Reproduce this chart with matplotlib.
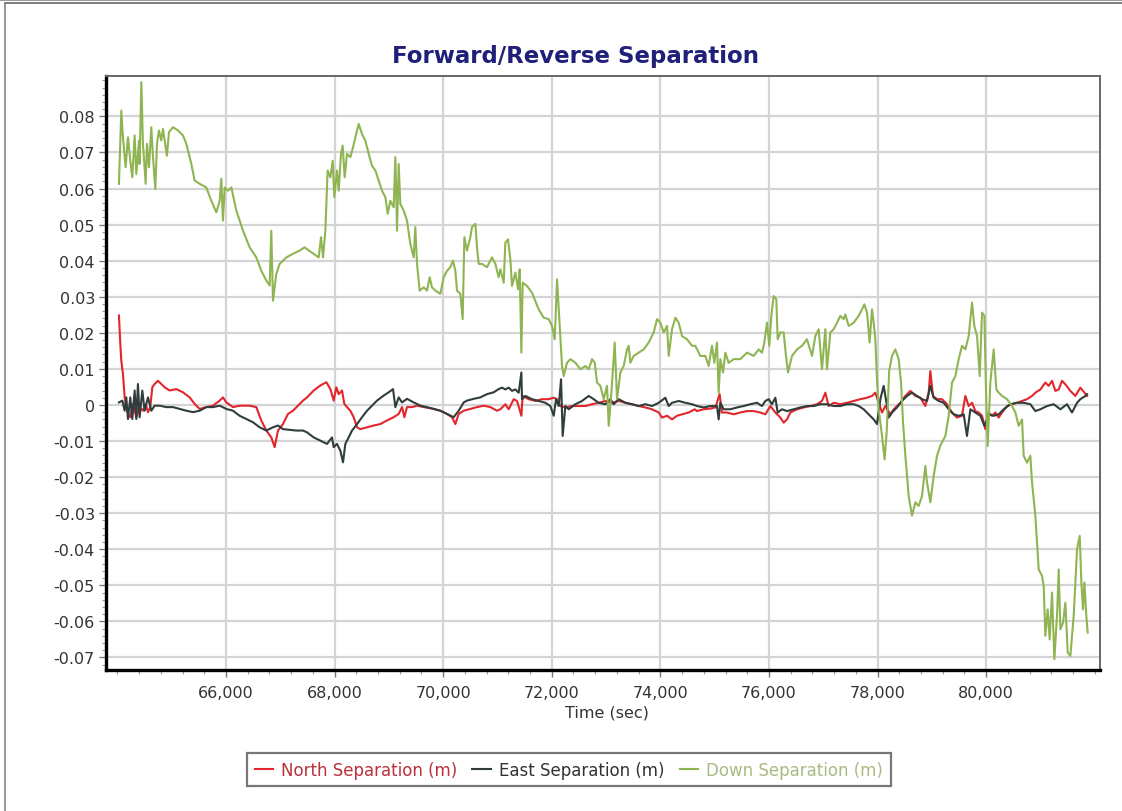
import matplotlib
matplotlib.use("Agg")
import matplotlib.pyplot as plt
from matplotlib.ticker import FixedLocator, MultipleLocator, FuncFormatter
from matplotlib.lines import Line2D

# values (time in sec, separation in m)
down_t = [64028, 64071, 64102, 64151, 64194, 64237, 64274, 64317, 64348, 64397, 64409, 64440,
          64470, 64520, 64544, 64581, 64624, 64655, 64698, 64728, 64765, 64808, 64839, 64912,
          64949, 65023, 65115, 65207, 65269, 65361, 65422, 65514, 65637, 65729, 65821, 65883,
          65913, 65944, 65975, 66036, 66098, 66190, 66313, 66435, 66558, 66650, 66742, 66804,
          66834, 66865, 66926, 66988, 67111, 67233, 67356, 67448,
          67492, 67615, 67707, 67750, 67787, 67830, 67872, 67922, 67965, 67995, 68044, 68075,
          68118, 68149, 68186, 68229, 68290, 68339, 68382, 68444, 68505, 68566, 68628, 68689,
          68751, 68812, 68873, 68935, 68978, 69027, 69088, 69119, 69150, 69180, 69211, 69272,
          69334, 69395, 69457, 69487, 69518, 69567, 69641, 69702, 69751, 69794, 69856, 69948,
          70009, 70071, 70132, 70181, 70224, 70255, 70316, 70359, 70390, 70439, 70500, 70531,
          70593, 70623, 70654, 70715, 70807, 70900, 70961, 71022,
          71053, 71115, 71145, 71194, 71237, 71268, 71329, 71379, 71409, 71440, 71464, 71544,
          71636, 71759, 71851, 71943, 72005, 72054, 72097, 72140, 72189, 72220, 72281, 72343,
          72435, 72527, 72619, 72680, 72742, 72791, 72834, 72895, 72957, 73018, 73049, 73098,
          73159, 73202, 73264, 73325, 73386, 73417, 73448, 73509, 73601, 73693, 73785, 73878,
          73939, 74000, 74062, 74123, 74154, 74215, 74277, 74338, 74399, 74492, 74584,
          74644, 74736, 74828, 74890, 74951, 74994, 75043, 75074, 75105, 75154, 75197, 75258,
          75350, 75473, 75596, 75719, 75811, 75872, 75915, 75964, 76007, 76044, 76087, 76136,
          76161, 76210, 76271, 76314, 76351, 76425, 76517, 76609, 76701, 76793, 76855, 76916,
          76977, 77039, 77069, 77131, 77192, 77254, 77315, 77376, 77407, 77469, 77561, 77653,
          77714, 77757, 77806, 77855, 77898, 77929, 77960, 77990, 78021, 78083, 78130, 78170,
          78215, 78267, 78328, 78390, 78433, 78470, 78513, 78574, 78635, 78697, 78758, 78820,
          78881, 78912, 78973, 79034, 79096, 79157, 79249, 79311, 79372, 79434, 79495, 79556,
          79618, 79679, 79741, 79783, 79833, 79882, 79925, 79968, 80005, 80029, 80078, 80140,
          80189, 80232, 80293, 80385, 80477, 80539, 80600, 80662, 80692, 80754, 80815, 80846,
          80907, 80969, 81030, 81061, 81091, 81134, 81171, 81214, 81257, 81306, 81337, 81368,
          81417, 81460, 81503, 81552, 81613, 81675, 81724, 81754, 81785, 81810, 81846, 81871]
down_v = [0.0613, 0.0816, 0.0742, 0.0659, 0.0742, 0.0677, 0.0631, 0.0747, 0.0640, 0.0733, 0.0668, 0.0895,
          0.0724, 0.0613, 0.0724, 0.0659, 0.0770, 0.0687, 0.0599, 0.0724, 0.0761, 0.0733, 0.0765, 0.0691,
          0.0756, 0.0770, 0.0761, 0.0747, 0.0724, 0.0668, 0.0622, 0.0613, 0.0603, 0.0566, 0.0534, 0.0566,
          0.0627, 0.0511, 0.0603, 0.0594, 0.0603, 0.0539, 0.0483, 0.0437, 0.0409, 0.0372, 0.0345, 0.0331,
          0.0483, 0.0289, 0.0363, 0.0391, 0.0409, 0.0419, 0.0428, 0.0437,
          0.0432, 0.0419, 0.0409, 0.0465, 0.0409, 0.0483, 0.0650, 0.0631, 0.0677, 0.0576, 0.0650, 0.0594,
          0.0696, 0.0719, 0.0631, 0.0696, 0.0687, 0.0714, 0.0742, 0.0779, 0.0751, 0.0733, 0.0696, 0.0663,
          0.0650, 0.0622, 0.0594, 0.0576, 0.0530, 0.0566, 0.0548, 0.0687, 0.0483, 0.0668, 0.0557, 0.0539,
          0.0511, 0.0446, 0.0409, 0.0493, 0.0391, 0.0317, 0.0326, 0.0317, 0.0354, 0.0326, 0.0317, 0.0308,
          0.0354, 0.0372, 0.0382, 0.0400, 0.0372, 0.0317, 0.0308, 0.0238, 0.0465, 0.0428, 0.0465, 0.0493,
          0.0502, 0.0437, 0.0391, 0.0391, 0.0382, 0.0409, 0.0391, 0.0354,
          0.0376, 0.0339, 0.0450, 0.0459, 0.0404, 0.0330, 0.0367, 0.0321, 0.0376, 0.0145, 0.0339, 0.0330,
          0.0311, 0.0265, 0.0242, 0.0238, 0.0219, 0.0182, 0.0348, 0.0238, 0.0108, 0.0080, 0.0117, 0.0127,
          0.0117, 0.0099, 0.0108, 0.0099, 0.0127, 0.0117, 0.0062, 0.0053, 0.0016, 0.0053, -0.0058, 0.0034,
          0.0173, 0.0016, 0.0090, 0.0108, 0.0154, 0.0164, 0.0117, 0.0136, 0.0145, 0.0154, 0.0173, 0.0201,
          0.0238, 0.0228, 0.0201, 0.0219, 0.0136, 0.0210, 0.0242, 0.0228, 0.0191, 0.0182, 0.0164,
          0.0164, 0.0136, 0.0136, 0.0108, 0.0164, 0.0117, 0.0173, 0.0034, 0.0127, 0.0090, 0.0145, 0.0117,
          0.0127, 0.0127, 0.0145, 0.0136, 0.0154, 0.0145, 0.0173, 0.0228, 0.0164, 0.0247, 0.0302, 0.0293,
          0.0182, 0.0201, 0.0201, 0.0136, 0.0090, 0.0136, 0.0154, 0.0164, 0.0182, 0.0136, 0.0191, 0.0210,
          0.0099, 0.0210, 0.0099, 0.0201, 0.0210, 0.0228, 0.0247, 0.0238, 0.0251, 0.0219, 0.0228, 0.0247,
          0.0265, 0.0279, 0.0256, 0.0173, 0.0265, 0.0228, 0.0182, 0.0071, -0.0012, -0.0086, -0.0151, -0.0072,
          0.0095, 0.0136, 0.0154, 0.0127, 0.0062, -0.0049, -0.0141, -0.0252, -0.0307, -0.0270, -0.0280, -0.0252,
          -0.0169, -0.0215, -0.0270, -0.0197, -0.0141, -0.0113, -0.0086, -0.0030, 0.0062, 0.0080, 0.0127, 0.0164,
          0.0154, 0.0191, 0.0284, 0.0219, 0.0191, 0.0080, 0.0256, 0.0247, -0.0003, -0.0114, 0.0062, 0.0154,
          0.0043, 0.0034, 0.0025, 0.0016, -0.0003, -0.0021, -0.0058, -0.0040, -0.0141, -0.0160, -0.0141, -0.0215,
          -0.0307, -0.0456, -0.0474, -0.0502, -0.0640, -0.0567, -0.0650, -0.0520, -0.0705, -0.0585, -0.0456, -0.0622,
          -0.0604, -0.0548, -0.0686, -0.0696, -0.0585, -0.0400, -0.0363, -0.0492, -0.0567, -0.0492, -0.0585, -0.0631]

north_t = [64028, 64053, 64071, 64102, 64133, 64163, 64194, 64237, 64286, 64348, 64409, 64470,
           64520, 64563, 64605, 64642, 64685, 64747, 64808, 64870, 64962, 65084, 65207, 65330,
           65422, 65514, 65637, 65760, 65883, 65944, 66005, 66128, 66251, 66435, 66558, 66650,
           66742, 66834, 66896, 66957, 67049, 67141, 67233, 67326, 67418,
           67492, 67615, 67737, 67848, 67922, 67983, 68032, 68075, 68137, 68179, 68229, 68290,
           68351, 68413, 68474, 68597, 68720, 68843, 68965, 69088, 69180, 69242, 69285, 69334,
           69426, 69518, 69641, 69825, 69948, 70071, 70163, 70224, 70286, 70378, 70500, 70623,
           70746, 70869, 70992,
           71053, 71145, 71207, 71299, 71360, 71440, 71464, 71575, 71698, 71821, 71943, 72036,
           72097, 72158, 72250, 72373, 72496, 72619, 72742, 72864, 72987, 73110, 73233, 73356,
           73478, 73601, 73724, 73847, 73970, 74031, 74123, 74215, 74307, 74399, 74522, 74633,
           74675, 74798, 74920, 75013, 75092, 75135, 75227, 75350, 75473, 75596, 75719, 75841,
           75934, 76026, 76118, 76210, 76271, 76333, 76394, 76517, 76640, 76763, 76885, 76977,
           77039, 77100, 77192, 77315, 77438, 77561, 77683, 77806, 77898, 77960, 78021, 78083,
           78144, 78236, 78298, 78359, 78420, 78513, 78605, 78697, 78789, 78881, 78942, 78973,
           79022, 79096, 79188, 79280, 79372, 79464, 79556, 79618, 79679, 79741, 79802, 79863,
           79925, 79986, 80048, 80109, 80170, 80232, 80293, 80385, 80477, 80569, 80662, 80754,
           80846, 80907, 81000, 81091, 81153, 81214, 81276, 81337, 81398, 81460, 81552, 81644,
           81736, 81810, 81859]
north_v = [0.0248, 0.0169, 0.0123, 0.0086, 0.0021, -0.0006, -0.0025, -0.0034, 0.0003, -0.0034, -0.0006, -0.0016,
           0.0003, -0.0020, -0.0006, 0.0049, 0.0058, 0.0067, 0.0058, 0.0049, 0.0040, 0.0044, 0.0035, 0.0021,
           0.0003, -0.0011, -0.0006, -0.0002, 0.0012, 0.0021, 0.0007, -0.0006, -0.0002, -0.0002, -0.0006, -0.0043,
           -0.0071, -0.0090, -0.0117, -0.0071, -0.0053, -0.0025, -0.0016, -0.0002, 0.0012,
           0.0021, 0.0040, 0.0054, 0.0063, 0.0044, 0.0012, 0.0049, 0.0030, 0.0040, 0.0003, -0.0006, -0.0016,
           -0.0034, -0.0062, -0.0067, -0.0062, -0.0057, -0.0053, -0.0043, -0.0034, -0.0025, -0.0006, -0.0034, -0.0006,
           -0.0006, -0.0002, -0.0006, -0.0011, -0.0016, -0.0025, -0.0034, -0.0053, -0.0025, -0.0016, -0.0011, -0.0006,
           -0.0002, -0.0006, -0.0016,
           -0.0012, 0.0002, -0.0012, 0.0016, 0.0011, -0.0030, 0.0025, 0.0016, 0.0011, 0.0016, 0.0016, 0.0020,
           0.0016, -0.0003, -0.0007, -0.0003, -0.0003, -0.0003, 0.0002, 0.0006, 0.0011, 0.0006, 0.0011, 0.0006,
           0.0002, -0.0003, -0.0007, -0.0012, -0.0021, -0.0035, -0.0030, -0.0040, -0.0030, -0.0026, -0.0021, -0.0012,
           -0.0017, -0.0012, -0.0010, -0.0007, 0.0030, -0.0021, -0.0021, -0.0026, -0.0021, -0.0017, -0.0017, -0.0021,
           -0.0026, -0.0003, -0.0021, -0.0035, -0.0049, -0.0040, -0.0021, -0.0012, -0.0007, -0.0003, 0.0002, 0.0011,
           0.0034, -0.0003, 0.0006, 0.0002, 0.0006, 0.0011, 0.0016, 0.0020, 0.0025, 0.0034, 0.0006, -0.0021,
           -0.0003, -0.0026, -0.0012, -0.0003, 0.0006, 0.0025, 0.0039, 0.0025, 0.0020, -0.0003, 0.0034, 0.0094,
           0.0025, 0.0016, 0.0016, 0.0002, -0.0021, -0.0035, -0.0030, 0.0025, -0.0003, 0.0006, -0.0017, -0.0021,
           -0.0030, -0.0067, -0.0021, -0.0030, -0.0021, -0.0035, -0.0021, -0.0003, 0.0002, 0.0006, 0.0011, 0.0016,
           0.0025, 0.0034, 0.0043, 0.0062, 0.0053, 0.0067, 0.0039, 0.0043, 0.0067, 0.0057, 0.0039, 0.0025,
           0.0048, 0.0034, 0.0025]

east_t = [64028, 64090, 64133, 64163, 64194, 64237, 64274, 64317, 64348, 64378, 64409, 64458,
          64501, 64563, 64624, 64685, 64777, 64900, 65023, 65146, 65269, 65391, 65514, 65637,
          65760, 65883, 66005, 66128, 66251, 66374, 66497, 66619, 66742, 66865, 66957, 67049,
          67172, 67295, 67418,
          67492, 67615, 67737, 67860, 67952, 67983, 68044, 68106, 68155, 68198, 68259, 68321,
          68413, 68505, 68597, 68689, 68781, 68904, 68996, 69076, 69119, 69180, 69242, 69334,
          69457, 69580, 69702, 69825, 69948, 70071, 70193, 70286, 70378, 70439, 70562, 70685,
          70807, 70930, 71022,
          71084, 71145, 71207, 71268, 71329, 71391, 71440, 71452, 71514, 71636, 71759, 71882,
          71974, 72036, 72078, 72128, 72171, 72201, 72250, 72312, 72435, 72557, 72680, 72772,
          72864, 72987, 73079, 73141, 73233, 73356, 73478, 73601, 73724, 73847, 73970, 74092,
          74154, 74215, 74338, 74461, 74584,
          74675, 74798, 74920, 75043, 75074, 75105, 75166, 75289, 75412, 75534, 75657, 75780,
          75872, 75934, 75995, 76056, 76118, 76161, 76241, 76333, 76455, 76578, 76701, 76824,
          76947, 77069, 77192, 77315, 77438, 77561, 77653, 77745, 77837, 77929, 77990, 78052,
          78113, 78175, 78206, 78267, 78359, 78451, 78543, 78635, 78727, 78820, 78912, 78973,
          79034, 79127, 79219, 79311, 79403, 79495, 79587, 79648, 79710, 79802, 79894, 79968,
          80048, 80140, 80232, 80324, 80447, 80569, 80692, 80815, 80907, 81000, 81122, 81245,
          81368, 81490, 81582, 81675, 81736, 81828, 81859]
east_v = [0.0007, 0.0012, -0.0016, 0.0021, -0.0039, 0.0021, -0.0039, 0.0040, -0.0039, 0.0058, -0.0034, 0.0040,
          -0.0016, 0.0021, -0.0016, -0.0002, -0.0002, -0.0006, -0.0006, -0.0011, -0.0016, -0.0020, -0.0016, -0.0006,
          -0.0006, -0.0002, -0.0011, -0.0016, -0.0030, -0.0039, -0.0048, -0.0062, -0.0071, -0.0062, -0.0057, -0.0067,
          -0.0069, -0.0071, -0.0071,
          -0.0076, -0.0090, -0.0099, -0.0108, -0.0090, -0.0117, -0.0108, -0.0127, -0.0159, -0.0108, -0.0090, -0.0071,
          -0.0053, -0.0034, -0.0016, -0.0002, 0.0012, 0.0026, 0.0035, 0.0044, -0.0006, 0.0021, 0.0007, 0.0017,
          0.0007, -0.0002, -0.0006, -0.0011, -0.0016, -0.0025, -0.0034, -0.0016, 0.0007, 0.0012, 0.0017, 0.0021,
          0.0030, 0.0035, 0.0044,
          0.0048, 0.0043, 0.0048, 0.0039, 0.0043, 0.0034, 0.0090, 0.0016, 0.0025, 0.0016, 0.0011, 0.0006,
          -0.0003, -0.0030, 0.0016, -0.0003, 0.0071, -0.0086, -0.0003, -0.0012, 0.0002, 0.0011, 0.0025, 0.0016,
          0.0006, 0.0002, 0.0016, 0.0002, 0.0016, 0.0006, 0.0002, -0.0003, 0.0002, -0.0003, 0.0006, 0.0020,
          -0.0003, 0.0006, 0.0011, 0.0006, 0.0002,
          -0.0003, -0.0007, -0.0003, -0.0003, -0.0040, 0.0006, -0.0012, -0.0012, -0.0007, -0.0003, 0.0002, 0.0006,
          -0.0003, 0.0011, 0.0016, 0.0002, 0.0020, -0.0021, -0.0012, -0.0017, -0.0012, -0.0007, -0.0003, -0.0003,
          0.0002, 0.0002, -0.0003, -0.0003, 0.0002, 0.0002, -0.0003, -0.0012, -0.0026, -0.0040, -0.0053, 0.0016,
          0.0053, -0.0003, -0.0035, -0.0021, -0.0007, 0.0011, 0.0025, 0.0034, 0.0025, 0.0016, 0.0011, 0.0053,
          0.0020, 0.0011, 0.0006, -0.0012, -0.0026, -0.0030, -0.0026, -0.0086, -0.0012, -0.0021, -0.0030, -0.0058,
          -0.0026, -0.0030, -0.0026, -0.0012, 0.0002, 0.0006, 0.0006, 0.0002, -0.0017, -0.0012, -0.0003, 0.0002,
          -0.0012, 0.0002, -0.0021, 0.0006, 0.0016, 0.0025, 0.0030]

x_ticks = [66000, 68000, 70000, 72000, 74000, 76000, 78000, 80000]
y_ticks = [-0.07, -0.06, -0.05, -0.04, -0.03, -0.02, -0.01, 0, 0.01, 0.02, 0.03, 0.04, 0.05, 0.06, 0.07, 0.08]
labels = ["North Separation (m)", "East Separation (m)", "Down Separation (m)"]
line_colors = ["#e2262b", "#2f3d3d", "#8fb552"]
text_colors = ["#b8313c", "#333333", "#a9bb82"]

fig = plt.figure(figsize=(11.22, 8.12), dpi=100)
ax = fig.add_axes([0.0945, 0.174, 0.886, 0.7312])

ax.plot(north_t, north_v, color=line_colors[0], lw=1.5, zorder=3)
ax.plot(east_t, east_v, color=line_colors[1], lw=1.5, zorder=3)
ax.plot(down_t, down_v, color=line_colors[2], lw=1.5, zorder=3)

ax.set_xlim(63790, 82100)
ax.set_ylim(-0.0734, 0.0912)
ax.xaxis.set_major_locator(FixedLocator(x_ticks))
ax.xaxis.set_minor_locator(MultipleLocator(400))
ax.yaxis.set_major_locator(FixedLocator(y_ticks))
ax.yaxis.set_minor_locator(MultipleLocator(0.002))
ax.xaxis.set_major_formatter(FuncFormatter(lambda v, p: f"{int(round(v)):,}"))
ax.yaxis.set_major_formatter(FuncFormatter(lambda v, p: "0" if abs(v) < 1e-9 else f"{v:.2f}"))

ax.grid(True, which="major", color="#d4d4d4", lw=1.6, zorder=0)
ax.tick_params(which="major", length=5, width=1, color="#777777", labelsize=11.5, labelcolor="#333333")
ax.tick_params(axis="y", which="major", pad=3)
ax.tick_params(axis="x", which="major", pad=6)
ax.tick_params(which="minor", length=3, width=0.8, color="#999999")

for side in ["left", "bottom"]:
    ax.spines[side].set_color("black")
    ax.spines[side].set_linewidth(2.4)
for side in ["top", "right"]:
    ax.spines[side].set_color("#666666")
    ax.spines[side].set_linewidth(1.4)

fig.text(0.513, 0.931, "Forward/Reverse Separation", ha="center", va="center",
         fontsize=16.5, fontweight="bold", color="#20207a")
fig.text(0.541, 0.122, "Time (sec)", ha="center", va="center", fontsize=11.5, color="#333333")

handles = [Line2D([], [], color=c, lw=1.5) for c in line_colors]
leg = fig.legend(handles, labels, loc="center", bbox_to_anchor=(0.507, 0.0505), ncol=3,
                 fontsize=12, frameon=True, fancybox=False, handlelength=1.1, handletextpad=0.5,
                 columnspacing=0.9, borderpad=0.45)
leg.get_frame().set_edgecolor("#555555")
leg.get_frame().set_linewidth(1.6)
for txt, c in zip(leg.get_texts(), text_colors):
    txt.set_color(c)

# outer panel frame
fig.add_artist(Line2D([0, 1], [1 - 1 / 812, 1 - 1 / 812], color="#888888", lw=1.2))
fig.add_artist(Line2D([5 / 1122, 1], [1 - 4 / 812, 1 - 4 / 812], color="#666666", lw=1.2))
fig.add_artist(Line2D([5 / 1122, 5 / 1122], [0, 1 - 4 / 812], color="#888888", lw=1.2))

fig.savefig("out.png", dpi=100)
